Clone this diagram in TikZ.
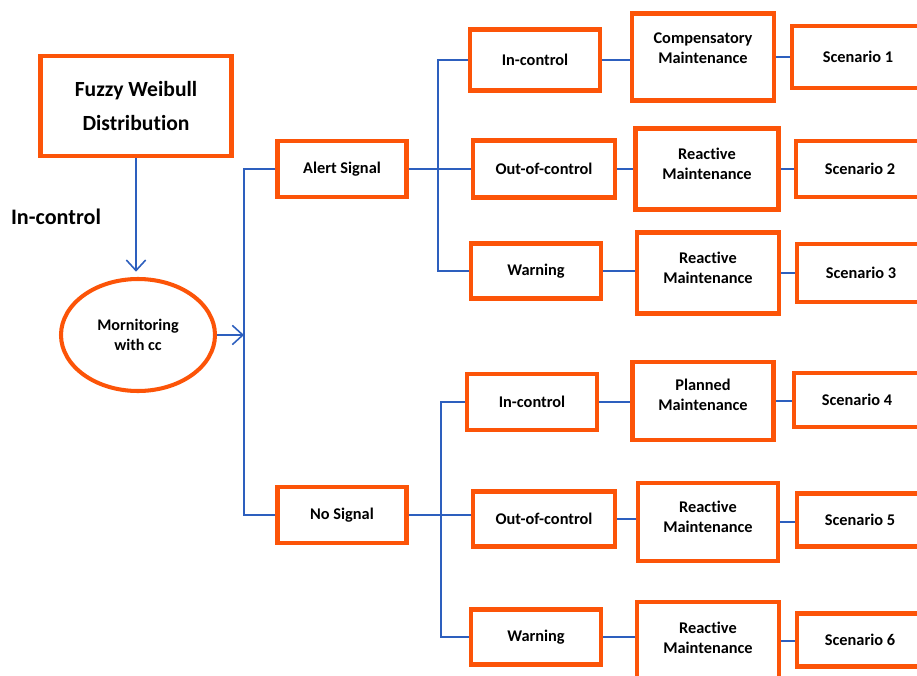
\documentclass[tikz,border=0pt]{standalone}
\usepackage{fontspec}
\setmainfont[Ligatures=NoCommon]{Carlito}
\usetikzlibrary{arrows.meta,shapes.geometric}
\definecolor{boxorange}{RGB}{252,84,8}
\definecolor{linkblue}{RGB}{45,95,190}

\begin{document}
\begin{tikzpicture}[x=0.02cm,y=-0.02cm,
  >={Straight Barb[length=6pt,width=11pt]},
  wh/.style 2 args={minimum width=#1*0.02cm,minimum height=#2*0.02cm},
  box/.style={draw=boxorange,line width=2.3pt,inner sep=0pt,align=center,font=\fontsize{9.3}{11.5}\selectfont\bfseries},
  lbl/.style={inner sep=0pt,align=center,font=\fontsize{9.3}{11.5}\selectfont\bfseries},
  link/.style={draw=linkblue,line width=0.9pt}]

\useasboundingbox (0,0) rectangle (917,676);

% left part
\node[box,wh={191}{100},font=\fontsize{12.3}{18.8}\selectfont\bfseries] (fwd) at (136,106) {Fuzzy Weibull\\Distribution};
\node[lbl,font=\fontsize{12.6}{15}\selectfont\bfseries] (incl) at (56,217) {In-control};
\node[box,ellipse,wh={154}{112},font=\fontsize{9.2}{11.4}\selectfont\bfseries] (mon) at (138,335) {Mornitoring\\with cc};

\draw[link,->,shorten >=3pt] (fwd.south) -- (fwd.south |- mon.north);

% signals
\node[box,wh={129}{56}] (alert) at (342,169) {Alert Signal};
\node[box,wh={129}{56}] (nosig) at (342,515) {No Signal};

\coordinate (tr) at (244,333);
\draw[link,->] (mon.east) -- (mon.east -| tr);
\draw[link] (alert.west) -| (tr) |- (nosig.west);

% alert branch
\node[box,wh={130}{61}] (inc1) at (535,60) {In-control};
\node[box,wh={142}{57}] (out1) at (544,169) {Out-of-control};
\node[box,wh={130}{55}] (warn1) at (536,271) {Warning};

\coordinate (ja) at (438,169);
\draw[link] (alert.east) -- (out1.west);
\draw[link] (inc1.west) -| (ja) |- (warn1.west);

\node[box,wh={142}{87}] (comp) at (703,57) {};
\node[lbl] (compt) at (703,48) {Compensatory\\Maintenance};
\node[box,wh={143}{81}] (react2) at (707,169) {};
\node[lbl] (react2t) at (707,164) {Reactive\\Maintenance};
\node[box,wh={142}{81}] (react3) at (708,273) {};
\node[lbl] (react3t) at (708,268) {Reactive\\Maintenance};

\draw[link] (inc1.east) -- (inc1.east -| comp.west);
\draw[link] (out1.east) -- (out1.east -| react2.west);
\draw[link] (warn1.east) -- (warn1.east -| react3.west);

\node[box,wh={132}{62}] (sc1) at (858,57) {Scenario 1};
\node[box,wh={128}{56}] (sc2) at (860,169) {Scenario 2};
\node[box,wh={128}{58}] (sc3) at (861,273) {Scenario 3};

\draw[link] (comp.east) -- (comp.east -| sc1.west);
\draw[link] (react2.east) -- (react2.east -| sc2.west);
\draw[link] (react3.east) -- (react3.east -| sc3.west);

% no signal branch
\node[box,wh={130}{56}] (inc2) at (532,402) {In-control};
\node[box,wh={142}{55}] (out2) at (544,519) {Out-of-control};
\node[box,wh={130}{55}] (warn2) at (536,637) {Warning};

\coordinate (jb) at (441,519);
\draw[link] (nosig.east) -- (nosig.east -| out2.west);
\draw[link] (inc2.west) -| (jb) |- (warn2.west);

\node[box,wh={141}{78}] (plan) at (703,401) {};
\node[lbl] (plant) at (703,395) {Planned\\Maintenance};
\node[box,wh={140}{78}] (react5) at (708,522) {};
\node[lbl] (react5t) at (708,517) {Reactive\\Maintenance};
\node[box,wh={142}{78}] (react6) at (708,641) {};
\node[lbl] (react6t) at (708,638) {Reactive\\Maintenance};

\draw[link] (inc2.east) -- (inc2.east -| plan.west);
\draw[link] (out2.east) -- (out2.east -| react5.west);
\draw[link] (warn2.east) -- (warn2.east -| react6.west);

\node[box,wh={126}{54}] (sc4) at (857,400) {Scenario 4};
\node[box,wh={126}{53}] (sc5) at (860,520) {Scenario 5};
\node[box,wh={126}{53}] (sc6) at (860,640) {Scenario 6};

\draw[link] (plan.east) -- (plan.east -| sc4.west);
\draw[link] (react5.east) -- (react5.east -| sc5.west);
\draw[link] (react6.east) -- (react6.east -| sc6.west);

\end{tikzpicture}
\end{document}
